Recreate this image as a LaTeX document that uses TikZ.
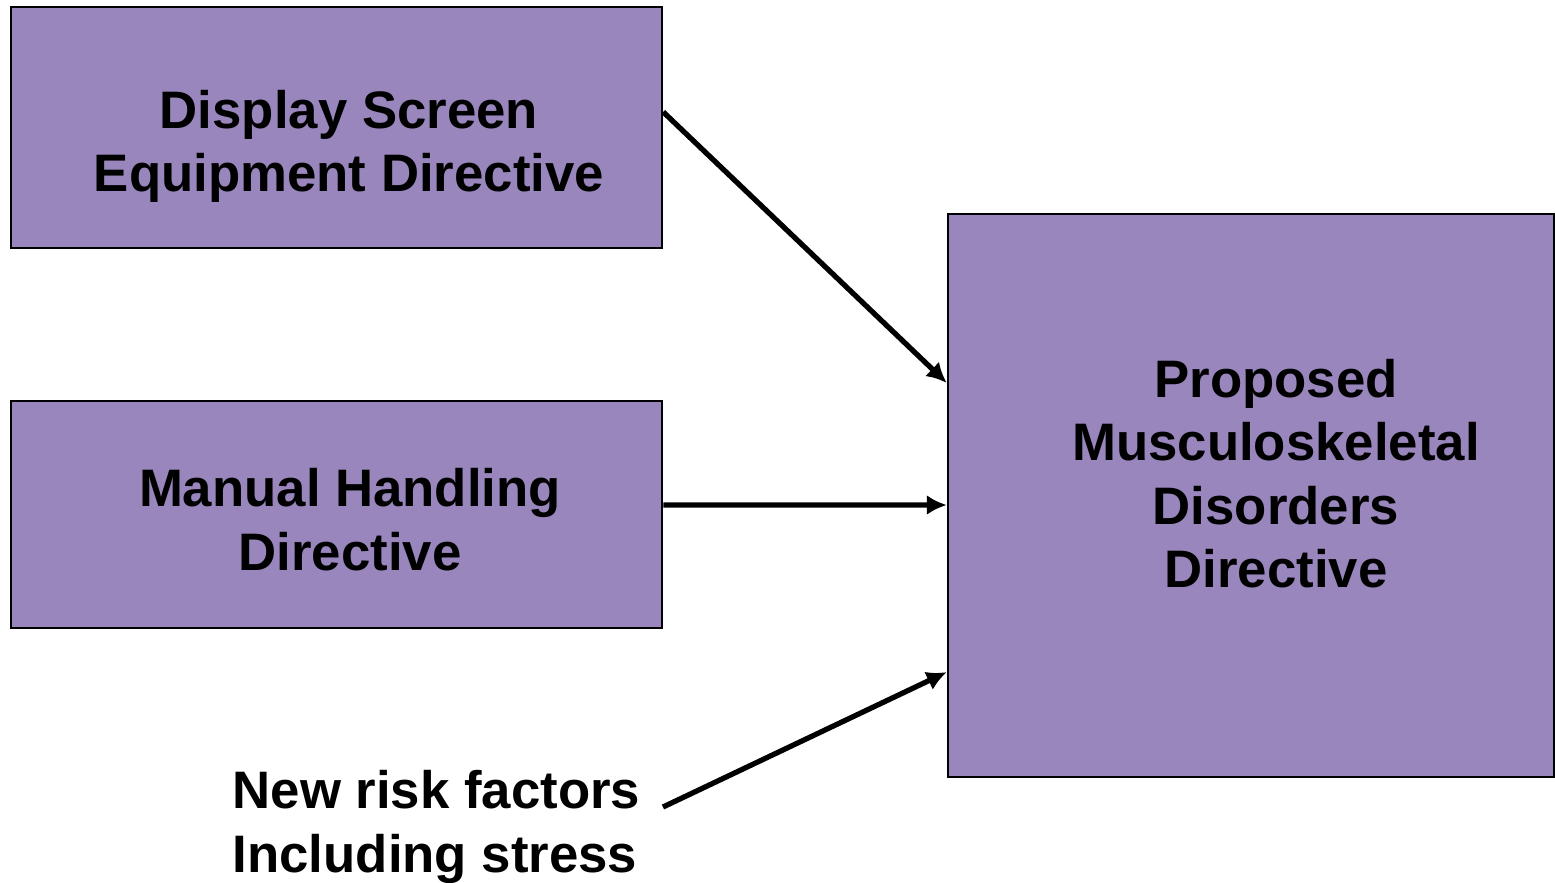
\documentclass[tikz,border=0pt]{standalone}
\usepackage{fontspec}
\setmainfont{Liberation Sans}
\usetikzlibrary{arrows.meta}
\definecolor{boxpurple}{RGB}{152,134,188}

\begin{document}
\begin{tikzpicture}[x=0.01cm, y=-0.01cm,
    box/.style={draw=black, line width=0.6pt, fill=boxpurple, inner sep=0pt},
    boxtext/.style={font=\fontsize{15}{18}\selectfont\bfseries, align=center, inner sep=0pt},
    arr/.style={line width=1.5pt, -{Latex[length=2mm, width=2mm]}}]
    \useasboundingbox (0,0) rectangle (1555,882);

    % the three directive boxes
    \node[box, minimum width=6.51cm, minimum height=2.41cm] (dse) at (336.5,127.5) {};
    \node[box, minimum width=6.51cm, minimum height=2.27cm] (mhd) at (336.5,514.5) {};
    \node[box, minimum width=6.06cm, minimum height=5.63cm] (msd) at (1251,495.5) {};

    \node[boxtext] (dsetxt) at (349,146.5) {Display Screen\\Equipment Directive};
    \node[boxtext] (mhdtxt) at (350,519.5) {Manual Handling\\Directive};
    \node[boxtext] (msdtxt) at (1276,473.5) {Proposed\\Musculoskeletal\\Disorders\\Directive};

    \node[boxtext, align=left, anchor=north west] (risk) at (232,770) {New risk factors\\Including stress};

    % arrows into the proposed directive
    \draw[arr] ([yshift=0.155cm]dse.east) -- ([yshift=1.125cm]msd.west);
    \draw[arr] ([yshift=0.095cm]mhd.east) -- ([yshift=-0.095cm]msd.west);
    \draw[arr] ([xshift=0.22cm, yshift=0.2cm]risk.east) -- ([yshift=-1.765cm]msd.west);
\end{tikzpicture}
\end{document}
